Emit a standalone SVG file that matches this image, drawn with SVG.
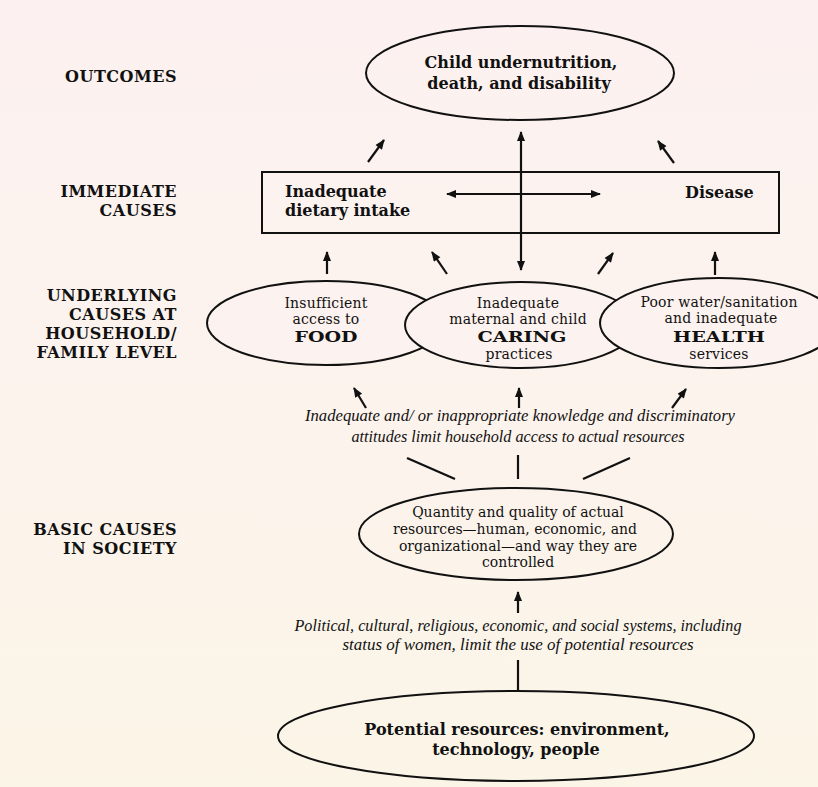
<svg xmlns="http://www.w3.org/2000/svg" width="818" height="787" viewBox="0 0 818 787">
<defs>
<linearGradient id="bg" x1="0" y1="0" x2="0" y2="1">
<stop offset="0" stop-color="#fcf1f0"/>
<stop offset="0.5" stop-color="#fcf3ed"/>
<stop offset="1" stop-color="#fbf5e7"/>
</linearGradient>
<marker id="ah" viewBox="0 0 10 8" refX="9" refY="4" markerWidth="11" markerHeight="8" markerUnits="userSpaceOnUse" orient="auto-start-reverse">
<path d="M0,0 L10,4 L0,8 z" fill="#111"/>
</marker>
<style>
.lbl{font-family:"DejaVu Serif",serif;font-weight:bold;font-size:16px;letter-spacing:0.5px;fill:#111;text-anchor:end}
.b{font-family:"DejaVu Serif",serif;font-weight:bold;font-size:16px;fill:#111}
.cap{font-family:"DejaVu Serif",serif;font-weight:bold;font-size:15px;fill:#111;text-anchor:middle}
.r{font-family:"DejaVu Serif",serif;font-size:14px;letter-spacing:0.2px;fill:#111;text-anchor:middle}
.r14{font-family:"DejaVu Serif",serif;font-size:14px;fill:#111;text-anchor:middle}
.it{font-family:"Liberation Serif",serif;font-style:italic;font-size:16.5px;fill:#111;text-anchor:middle}
.c{text-anchor:middle}
.shape{fill:none;stroke:#111;stroke-width:2}
.filled{fill:#fcf2ef;stroke:#111;stroke-width:2}
.conn line{stroke:#111;stroke-width:2.2;fill:none}
.arr{marker-end:url(#ah)}
.dbl{marker-start:url(#ah);marker-end:url(#ah)}
</style>
</defs>
<rect x="0" y="0" width="818" height="787" fill="url(#bg)"/>

<g id="labels">
<text class="lbl" x="177" y="82">OUTCOMES</text>
<text class="lbl" x="177" y="197">IMMEDIATE</text>
<text class="lbl" x="177" y="216">CAUSES</text>
<text class="lbl" x="177" y="301">UNDERLYING</text>
<text class="lbl" x="177" y="320">CAUSES AT</text>
<text class="lbl" x="177" y="339">HOUSEHOLD/</text>
<text class="lbl" x="177" y="358">FAMILY LEVEL</text>
<text class="lbl" x="177" y="535">BASIC CAUSES</text>
<text class="lbl" x="177" y="554">IN SOCIETY</text>
</g>

<g id="outcome">
<ellipse class="shape" cx="520" cy="73" rx="154" ry="47"/>
<text class="b c" x="521" y="68">Child undernutrition,</text>
<text class="b c" x="519" y="89">death, and disability</text>
</g>

<g id="immediate">
<rect class="shape" x="262" y="172" width="517" height="61"/>
<text class="b" x="285" y="197">Inadequate</text>
<text class="b" x="285" y="216">dietary intake</text>
<text class="b" x="685" y="198">Disease</text>
</g>

<g id="food">
<ellipse class="filled" cx="326" cy="323" rx="119" ry="42"/>
<text class="r" x="326" y="308">Insufficient</text>
<text class="r" x="326" y="324">access to</text>
<text class="cap" x="326" y="342" textLength="63" lengthAdjust="spacingAndGlyphs">FOOD</text>
</g>

<g id="caring">
<ellipse class="filled" cx="521" cy="325" rx="116" ry="43"/>
<text class="r" x="518" y="308">Inadequate</text>
<text class="r" x="518" y="324">maternal and child</text>
<text class="cap" x="522" y="342" textLength="89" lengthAdjust="spacingAndGlyphs">CARING</text>
<text class="r" x="519" y="359">practices</text>
</g>

<g id="health">
<ellipse class="filled" cx="719" cy="323" rx="119" ry="45"/>
<text class="r" x="719" y="307">Poor water/sanitation</text>
<text class="r" x="721" y="323">and inadequate</text>
<text class="cap" x="719" y="342" textLength="92" lengthAdjust="spacingAndGlyphs">HEALTH</text>
<text class="r" x="719" y="359">services</text>
</g>

<g id="knowledge">
<text class="it" x="520" y="421" textLength="430" lengthAdjust="spacingAndGlyphs">Inadequate and/ or inappropriate knowledge and discriminatory</text>
<text class="it" x="518" y="442" textLength="333" lengthAdjust="spacingAndGlyphs">attitudes limit household access to actual resources</text>
</g>

<g id="resources">
<ellipse class="shape" cx="516" cy="534" rx="157" ry="46"/>
<text class="r14" x="518" y="517">Quantity and quality of actual</text>
<text class="r14" x="515" y="534">resources—human, economic, and</text>
<text class="r14" x="518" y="551">organizational—and way they are</text>
<text class="r14" x="518" y="567">controlled</text>
</g>

<g id="systems">
<text class="it" x="518" y="631" textLength="447" lengthAdjust="spacingAndGlyphs">Political, cultural, religious, economic, and social systems, including</text>
<text class="it" x="518" y="650" textLength="351" lengthAdjust="spacingAndGlyphs">status of women, limit the use of potential resources</text>
</g>

<g id="potential">
<ellipse class="shape" cx="516" cy="736" rx="238" ry="45"/>
<text class="b c" x="517" y="735">Potential resources: environment,</text>
<text class="b c" x="516" y="755">technology, people</text>
</g>

<g id="connectors" class="conn">
<line class="arr" x1="368" y1="162" x2="384" y2="140"/>
<line class="arr" x1="674" y1="163" x2="658" y2="141"/>
<line class="dbl" x1="521" y1="270" x2="521" y2="132"/>
<line class="dbl" x1="447" y1="194" x2="600" y2="194"/>
<line class="arr" x1="327" y1="274" x2="327" y2="252"/>
<line class="arr" x1="447" y1="274" x2="432" y2="252"/>
<line class="arr" x1="598" y1="274" x2="613" y2="253"/>
<line class="arr" x1="715" y1="275" x2="715" y2="252"/>
<line class="arr" x1="366" y1="408" x2="354" y2="388"/>
<line class="arr" x1="519" y1="408" x2="519" y2="388"/>
<line class="arr" x1="672" y1="408" x2="686" y2="389"/>
<line x1="407" y1="458" x2="455" y2="479"/>
<line x1="518" y1="455" x2="518" y2="479"/>
<line x1="630" y1="458" x2="583" y2="479"/>
<line class="arr" x1="518" y1="613" x2="518" y2="592"/>
<line x1="518" y1="660" x2="518" y2="691"/>
</g>
</svg>
